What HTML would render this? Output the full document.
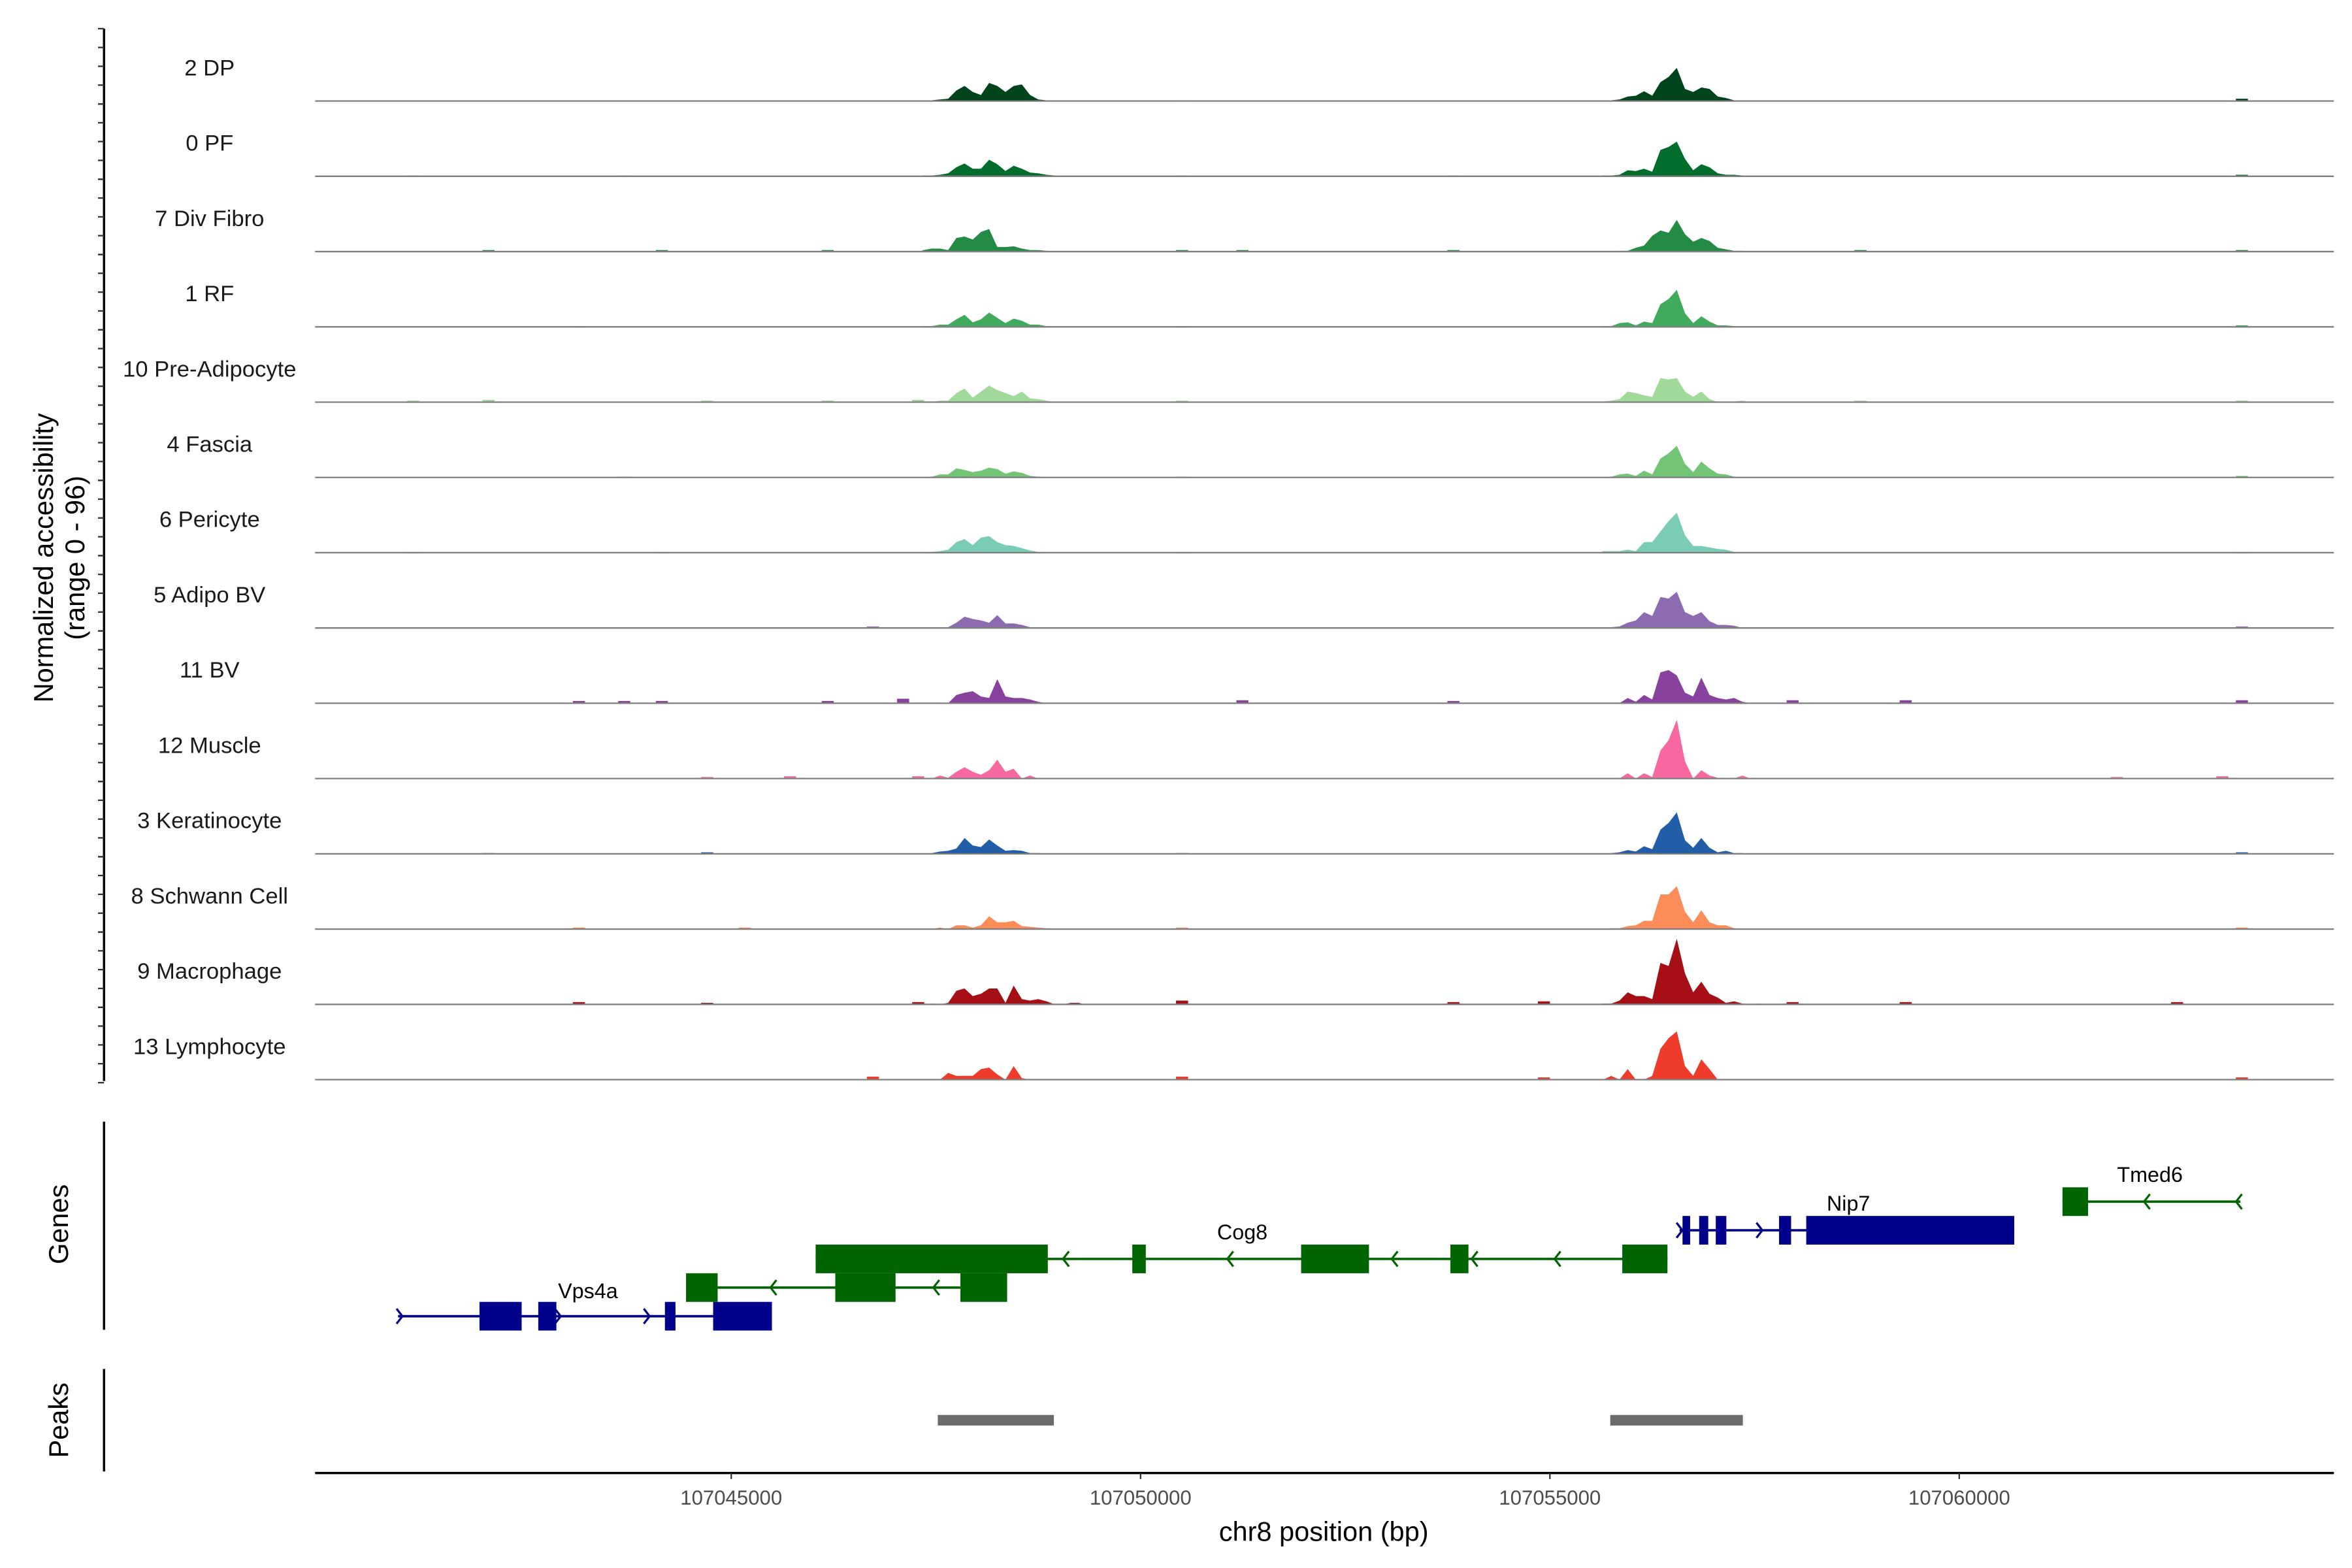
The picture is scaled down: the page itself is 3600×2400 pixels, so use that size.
<!DOCTYPE html>
<html><head><meta charset="utf-8"><style>
html,body{margin:0;padding:0;background:#fff}
svg{display:block}
text{font-family:"Liberation Sans",Arial,sans-serif}
</style></head><body>
<svg id="chart" xmlns="http://www.w3.org/2000/svg" width="3600" height="2400" viewBox="0 0 1560 1040">
<rect x="0" y="0" width="1560" height="1040" fill="#fff"/>
<g id="tracks"></g>
<g id="axes"></g>
<g id="genes"></g>
<g id="peaks"></g>
</svg>
<script>
const trackNames = ["2 DP","0 PF","7 Div Fibro","1 RF","10 Pre-Adipocyte","4 Fascia","6 Pericyte","5 Adipo BV","11 BV","12 Muscle","3 Keratinocyte","8 Schwann Cell","9 Macrophage","13 Lymphocyte"];
const trackColors = ["#00441b","#006d2c","#238b45","#41ab5d","#a1d99b","#74c476","#7bccb6","#8c6bb1","#88419d","#f768a1","#225ea8","#fc8d59","#a50f15","#ef3b2c"];
const region1Start = 107047300;
const region2Start = 107055600;
const binSize = 100;
const region1Values = [
[1,1,2,3,14,20,12,8,24,20,12,20,22,8,2,1,0,0,0,0],
[1,1,2,4,12,17,10,10,22,16,7,14,10,5,4,2,1,0,0,0],
[2,4,4,2,18,20,16,26,30,6,6,7,4,2,2,1,0,0,0,0],
[1,1,3,3,10,16,6,10,19,12,5,11,8,3,3,1,0,0,0,0],
[0,0,2,2,12,18,6,14,22,16,12,8,14,5,4,2,0,0,0,0],
[0,1,4,4,12,10,7,9,13,11,5,8,6,2,1,0,0,0,0,0],
[1,1,2,4,14,18,10,20,22,14,10,9,6,3,1,0,0,0,0,0],
[0,1,1,1,7,15,12,10,7,17,6,6,4,1,0,0,0,0,1,0],
[0,0,0,0,11,14,16,9,7,32,9,7,7,5,2,0,0,0,0,0],
[0,0,4,1,9,15,9,5,11,25,9,13,0,4,0,0,0,0,0,0],
[0,1,3,4,7,21,11,9,19,11,4,5,4,1,1,0,0,0,0,0],
[0,0,2,0,5,5,2,5,17,9,9,11,4,3,2,1,0,0,0,0],
[0,1,0,2,18,21,11,14,21,21,2,25,7,5,7,4,0,0,2,2],
[0,0,0,9,5,5,5,14,16,7,0,18,2,0,0,0,0,0,0,0]
];
const region2Values = [
[1,1,2,6,7,13,7,25,32,44,16,12,18,16,6,4,1,0,0,0],
[1,1,2,8,7,10,6,35,39,46,23,8,16,12,4,2,2,1,0,0],
[0,0,1,1,5,8,21,28,25,42,23,13,18,14,5,3,1,1,0,0],
[1,1,5,6,2,7,5,30,37,49,18,5,14,7,2,2,1,0,0,0],
[1,2,4,14,12,9,7,32,30,32,14,7,14,4,0,0,1,2,0,0],
[0,1,4,5,2,9,4,25,32,42,18,7,21,12,5,4,1,0,0,0],
[2,2,2,4,2,14,14,28,42,53,23,9,9,7,5,4,1,0,0,0],
[0,1,2,7,10,21,16,41,39,48,21,16,21,9,4,4,3,0,1,0],
[0,0,0,7,2,11,5,41,44,37,14,9,34,11,7,5,7,2,0,0],
[1,0,0,7,0,7,2,37,51,78,23,0,11,4,1,1,0,4,0,0],
[0,1,2,5,3,10,6,32,41,55,18,8,21,8,2,4,1,1,0,0],
[0,1,1,4,5,11,11,46,46,57,23,9,25,9,5,5,1,0,0,0],
[1,1,5,16,11,11,7,55,51,87,41,16,30,14,9,2,4,1,0,1],
[0,5,0,14,0,0,5,41,55,64,18,5,27,14,0,0,0,0,0,0]
];
const blipPositions = [
[107050433,107063379],
[107041041,107043619,107050433,107053748,107063379],
[107041961,107044079,107046105,107050433,107051170,107053748,107058720,107063379],
[107043066,107050433,107063379],
[107041041,107041961,107044632,107046105,107047210,107050433,107058720,107063379],
[107043619,107050433,107063379],
[107041041,107044079,107050433,107063379],
[107046657,107050433,107063379],
[107043066,107043619,107044079,107046105,107047026,107051170,107053748,107057891,107059272,107063379],
[107044632,107045645,107047210,107061851,107063140],
[107041961,107044632,107050433,107063379],
[107043066,107045092,107050433,107063379],
[107043066,107044632,107047210,107050433,107053748,107054853,107057891,107059272,107062587],
[107046657,107050433,107054853,107063379]
];
const blipValues = [
[1,3],
[1,1,1,1,2],
[2,2,2,2,2,2,2,2],
[1,1,2],
[2,3,2,2,3,2,2,2],
[1,1,2],
[1,1,1,1],
[2,1,2],
[3,3,3,3,6,4,3,4,4,4],
[2,3,3,2,3],
[1,2,1,2],
[2,2,2,2],
[3,2,3,5,3,4,3,3,3],
[4,4,3,3]
];
const xTicks = [107045000,107050000,107055000,107060000];

const NS = "http://www.w3.org/2000/svg";
const X0 = 209, X1 = 1548;
function xScale(bp){ return 485 + (bp - 107045000) * 0.0543; }
function baseY(i){ return 67 + i * 49.93; }
function yScale(i, v){ return baseY(i) - v * 0.5; }
function mk(tag, attrs, parent){ const e=document.createElementNS(NS,tag); for(const k in attrs) e.setAttribute(k,attrs[k]); parent.appendChild(e); return e; }

const tracks = document.getElementById('tracks');
trackNames.forEach((name, i) => {
  const g = mk('g', {}, tracks);
  
  
  const lbl = mk('text', {x:139, y:45 + i*49.93 + 5, 'font-size':15, 'text-anchor':'middle', fill:'#1a1a1a'}, g);
  lbl.textContent = name;
  
  
  [[region1Start, region1Values[i]], [region2Start, region2Values[i]]].forEach(([start, vals], r) => {
    let d = 'M' + xScale(start) + ',' + baseY(i);
    vals.forEach((v, k) => { d += ' L' + xScale(start + (k + 0.5) * binSize).toFixed(2) + ',' + yScale(i, v).toFixed(2); });
    d += ' L' + xScale(start + vals.length * binSize) + ',' + baseY(i) + ' Z';
    const p = mk('path', {d:d, fill:trackColors[i]}, g);
    
    
  });
  blipPositions[i].forEach((bp, k) => {
    const v = blipValues[i][k];
    const b = mk('rect', {x:xScale(bp), y:yScale(i, v), width:8, height:v*0.5, fill:trackColors[i]}, g);
    
    
  });
  const base = mk('line', {x1:X0, x2:X1, y1:baseY(i), y2:baseY(i), stroke:'#7f7f7f', 'stroke-width':1}, g);
  
  
});

const axes = document.getElementById('axes');
const yl = mk('line', {x1:69, x2:69, y1:19, y2:717, stroke:'#000', 'stroke-width':1.5}, axes);


for (let i = 0; i < 14; i++) {
  for (let k = 0; k < 4; k++) {
    const y = 19 + i*49.93 + k*12.48;
    const t = mk('line', {x1:65, x2:69, y1:y, y2:y, stroke:'#333', 'stroke-width':1}, axes);
    
    
  }
  const t2 = mk('line', {x1:65, x2:69, y1:19 + i*49.93 + 50, y2:19 + i*49.93 + 50, stroke:'#333', 'stroke-width':1}, axes);
  
  
}
const yt = mk('text', {transform:'translate(35,370) rotate(-90)', 'font-size':18, 'text-anchor':'middle', fill:'#000'}, axes);


const ts1 = mk('tspan', {x:0, y:0}, yt); ts1.textContent = 'Normalized accessibility';
const ts2 = mk('tspan', {x:0, y:21}, yt); ts2.textContent = '(range 0 - 96)';

[[744,882,'Genes',812],[908,976,'Peaks',942]].forEach(([a,b,txt,c]) => {
  const l = mk('line', {x1:69, x2:69, y1:a, y2:b, stroke:'#000', 'stroke-width':1.5}, axes);
  
  
  const t = mk('text', {transform:'translate(45,' + c + ') rotate(-90)', 'font-size':18, 'text-anchor':'middle', fill:'#000'}, axes);
  t.textContent = txt;
  
  
});
const xl = mk('line', {x1:X0, x2:X1, y1:977, y2:977, stroke:'#000', 'stroke-width':1.5}, axes);


xTicks.forEach(v => {
  const tk = mk('line', {x1:xScale(v), x2:xScale(v), y1:977, y2:981, stroke:'#333', 'stroke-width':1}, axes);
  
  
  const t = mk('text', {x:xScale(v), y:998, 'font-size':13.5, 'text-anchor':'middle', fill:'#4d4d4d'}, axes);
  t.textContent = String(v);
  
  
});
const xt = mk('text', {x:878, y:1022, 'font-size':18, 'text-anchor':'middle', fill:'#000'}, axes);
xt.textContent = 'chr8 position (bp)';



const geneNames = ["Vps4a","Pdf","Cog8","Nip7","Tmed6"];
const geneRows = [873,854,835,816,797];
const geneColors = ["#00008b","#006400","#006400","#00008b","#006400"];
const geneStrand = [1,-1,-1,1,-1];
const geneLines = [[107040930,107045497],[107044834,107047799],[107046031,107056436],[107056584,107060672],[107061261,107063434]];
const geneExons = [
 [[107041925,107042440],[107042643,107042864],[107044190,107044319],[107044779,107045497]],
 [[107044448,107044834],[107046271,107047007],[107047799,107048370]],
 [[107046031,107048867],[107049899,107050064],[107051961,107052790],[107053784,107054005],[107055884,107056436]],
 [[107056620,107056713],[107056823,107056934],[107057026,107057155],[107057799,107057946],[107058131,107060672]],
 [[107061261,107061574]]
];
const geneArrows = [[107040967,107042901,107043987],[107045497,107047486],[107049070,107051077,107053085,107054061,107055074],[107056602,107057578],[107062274,107063398]];
const geneLabelPos = [[107043250,861],[107046418,841],[107051243,822],[107058646,803],[107062329,784]];
const genes = document.getElementById('genes');
geneNames.forEach((nm, i) => {
  const g = mk('g', {}, genes);
  
  
  const y = geneRows[i], c = geneColors[i];
  const ln = mk('line', {x1:xScale(geneLines[i][0]), x2:xScale(geneLines[i][1]), y1:y, y2:y, stroke:c, 'stroke-width':1.6}, g);
  
  
  geneExons[i].forEach(([s,e]) => {
    const r = mk('rect', {x:xScale(s), y:y-9.5, width:xScale(e)-xScale(s), height:19, fill:c}, g);
    
    
  });
  geneArrows[i].forEach(a => {
    const ax = xScale(a), d = geneStrand[i] * 3;
    const p = mk('path', {d:'M' + (ax-d) + ',' + (y-5) + ' L' + (ax+d*0.3) + ',' + y + ' L' + (ax-d) + ',' + (y+5), fill:'none', stroke:c, 'stroke-width':1.4}, g);
    
    
  });
  const t = mk('text', {x:xScale(geneLabelPos[i][0]), y:geneLabelPos[i][1], 'font-size':14, 'text-anchor':'middle', fill:'#000'}, g);
  t.textContent = nm;
  
  
});

const peakStarts = [107047523,107055737];
const peakEnds = [107048941,107057357];
const peaks = document.getElementById('peaks');
peakStarts.forEach((s, i) => {
  const r = mk('rect', {x:xScale(s), y:938.5, width:xScale(peakEnds[i])-xScale(s), height:7, fill:'#6b6b6b'}, peaks);
  
  
});
</script>
</body></html>
